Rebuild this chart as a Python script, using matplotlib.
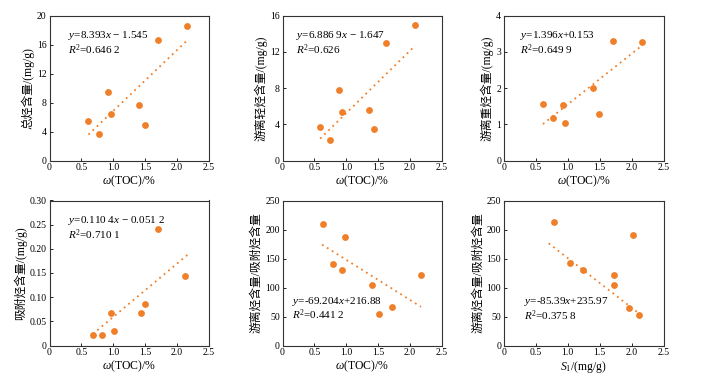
import matplotlib
matplotlib.use("Agg")
import matplotlib.pyplot as plt
import numpy as np

plt.rcParams['font.family'] = ['Liberation Serif', 'Noto Sans CJK SC']
plt.rcParams['mathtext.fontset'] = 'custom'
plt.rcParams['mathtext.rm'] = 'Liberation Serif'
plt.rcParams['mathtext.it'] = 'Liberation Serif:italic'
plt.rcParams['axes.unicode_minus'] = False

ORANGE = '#F07F2A'

# ---- data ----
toc1 = [0.61, 0.77, 0.92, 0.96, 1.40, 1.49, 1.70, 2.15]
total_hc = [5.4, 3.65, 9.45, 6.45, 7.65, 4.95, 16.6, 18.5]

toc2 = [0.59, 0.74, 0.88, 0.93, 1.35, 1.43, 1.63, 2.08]
free_light = [3.7, 2.3, 7.75, 5.3, 5.55, 3.5, 12.95, 15.0]

toc3 = [0.61, 0.77, 0.93, 0.96, 1.40, 1.49, 1.71, 2.17]
free_heavy = [1.56, 1.17, 1.53, 1.04, 2.0, 1.27, 3.29, 3.27]

toc4 = [0.68, 0.83, 0.97, 1.01, 1.43, 1.50, 1.70, 2.13]
adsorbed = [0.022, 0.021, 0.067, 0.031, 0.067, 0.086, 0.242, 0.144]

toc5 = [0.64, 0.79, 0.94, 0.98, 1.41, 1.51, 1.72, 2.17]
ratio5 = [210, 141, 131, 187, 104, 54, 66, 121]

s1 = [0.78, 1.04, 1.24, 1.72, 1.72, 2.02, 1.96, 2.12]
ratio6 = [213, 143, 131, 122, 105, 190, 65, 53]

slopes = [8.393, 6.8869, 1.396, 0.1104, -69.204, -85.39]
intercepts = [-1.545, -1.647, 0.153, -0.0512, 216.88, 235.97]
trend_ranges = [(0.61, 2.15), (0.59, 2.08), (0.61, 2.17), (0.68, 2.2), (0.62, 2.17), (0.70, 2.18)]

eq_texts = [
    (r"$y$=8.393$x$ − 1.545", r"$R^2$=0.646 2"),
    (r"$y$=6.886 9$x$ − 1.647", r"$R^2$=0.626"),
    (r"$y$=1.396$x$+0.153", r"$R^2$=0.649 9"),
    (r"$y$=0.110 4$x$ − 0.051 2", r"$R^2$=0.710 1"),
    (r"$y$=-69.204$x$+216.88", r"$R^2$=0.441 2"),
    (r"$y$=-85.39$x$+235.97", r"$R^2$=0.375 8"),
]
eq_pos = [(0.115, 0.81), (0.083, 0.81), (0.10, 0.81), (0.115, 0.81), (0.06, 0.255), (0.125, 0.25)]

ylabels = ["总烃含量/(mg/g)", "游离轻烃含量/(mg/g)", "游离重烃含量/(mg/g)",
           "吸附烃含量/(mg/g)", "游离烃含量/吸附烃含量", "游离烃含量/吸附烃含量"]
xlabels = [r"$\omega$(TOC)/%"] * 5 + [r"$S_1$/(mg/g)"]
ylims = [(0, 20), (0, 16), (0, 4), (0, 0.30), (0, 250), (0, 250)]
yticks = [np.arange(0, 21, 4), np.arange(0, 17, 4), np.arange(0, 5, 1),
          np.arange(0, 0.301, 0.05), np.arange(0, 251, 50), np.arange(0, 251, 50)]
yfmt = ["{:.0f}", "{:.0f}", "{:.0f}", "{:.2f}", "{:.0f}", "{:.0f}"]

xs = [toc1, toc2, toc3, toc4, toc5, s1]
ys = [total_hc, free_light, free_heavy, adsorbed, ratio5, ratio6]

fig = plt.figure(figsize=(7.07, 3.87), dpi=100)
W, H = 707, 387
lefts = [49.5, 282.5, 504]
tops = [15.5, 200.5]
aw, ah = 159.5, 145

for i in range(6):
    r, c = divmod(i, 3)
    l = lefts[c]
    t = tops[r]
    ax = fig.add_axes([l / W, 1 - (t + ah) / H, aw / W, ah / H])
    ax.scatter(xs[i], ys[i], s=24, color=ORANGE, zorder=3, linewidths=0)
    x0, x1 = trend_ranges[i]
    tx = np.array([x0, x1])
    ax.plot(tx, slopes[i] * tx + intercepts[i], linestyle=(0, (1, 2.2)),
            color=ORANGE, lw=1.3, zorder=2)
    ax.set_xlim(0, 2.5)
    ax.set_ylim(*ylims[i])
    ax.set_xticks([0, 0.5, 1.0, 1.5, 2.0, 2.5])
    ax.set_xticklabels(["0", "0.5", "1.0", "1.5", "2.0", "2.5"])
    ax.set_yticks(yticks[i])
    ax.set_yticklabels([yfmt[i].format(v) if v != 0 else "0" for v in yticks[i]])
    ax.tick_params(direction='in', length=2.5, width=0.6, labelsize=7, pad=2)
    for sp in ax.spines.values():
        sp.set_linewidth(0.8)
        sp.set_color('#333333')
    ax.set_xlabel(xlabels[i], fontsize=8.5, labelpad=1)
    ax.set_ylabel(ylabels[i], fontsize=8.5, labelpad=2)
    ex, ey = eq_pos[i]
    ax.text(ex, ey, eq_texts[i][0] + "\n" + eq_texts[i][1], transform=ax.transAxes,
            fontsize=8, va='center', ha='left', linespacing=1.0)

fig.savefig("out.png", dpi=100)
